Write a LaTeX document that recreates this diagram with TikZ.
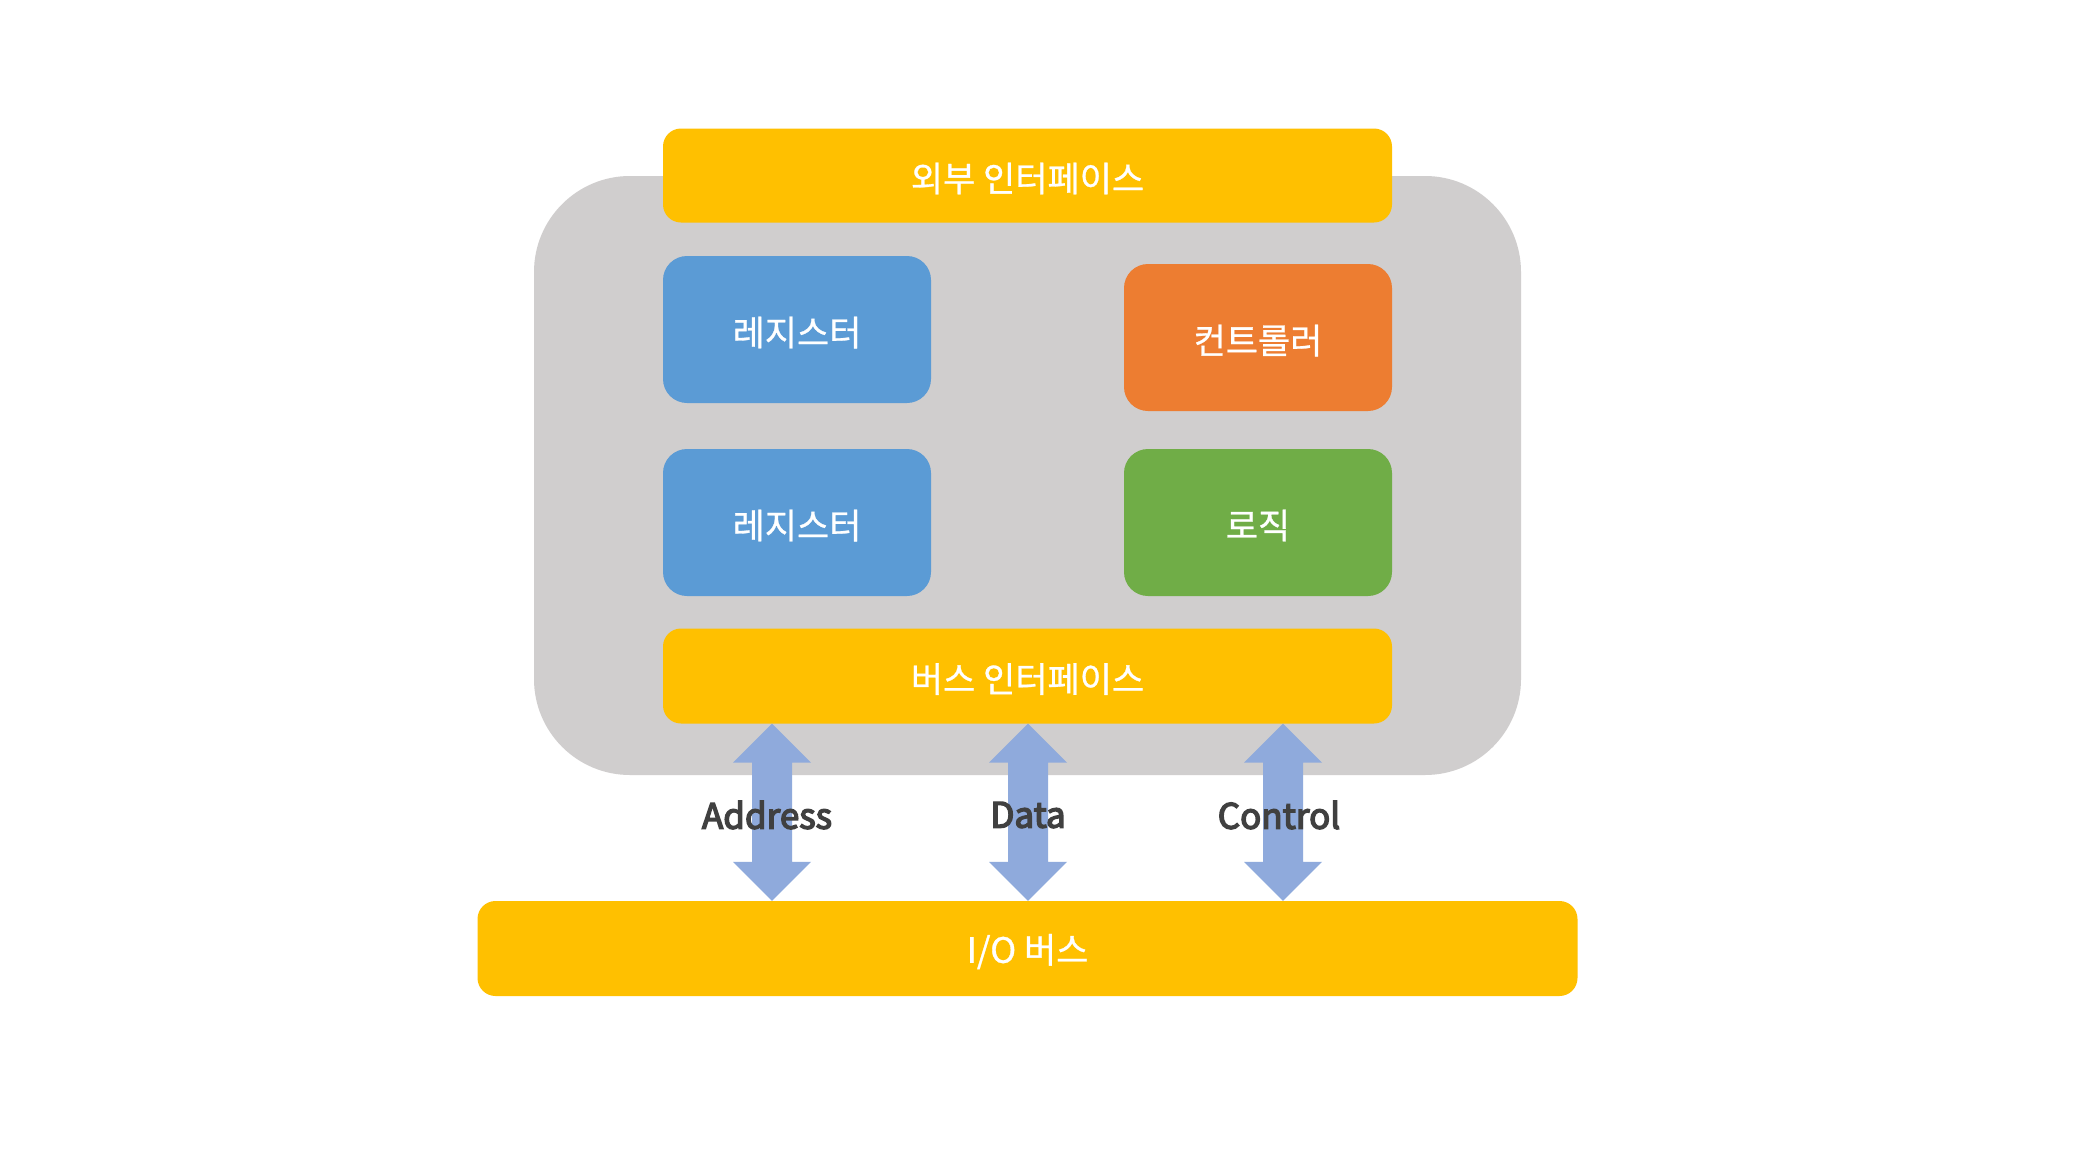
\documentclass[tikz,border=0pt]{standalone}
\usepackage{fontspec}
\usetikzlibrary{calc}
\setmainfont{Noto Sans CJK KR}
\newfontfamily\boxfont{Noto Sans CJK KR}[FakeBold=0.8]
\newfontfamily\lblfont{Noto Sans CJK KR}[FakeBold=4]
\newcommand{\lowtxt}[2]{\raisebox{-#1}[\height][\depth]{#2}}
\definecolor{cpuGray}{HTML}{D0CECE}
\definecolor{ifYellow}{HTML}{FFC000}
\definecolor{regBlue}{HTML}{5B9BD5}
\definecolor{ctlOrange}{HTML}{ED7D31}
\definecolor{logGreen}{HTML}{70AD47}
\definecolor{busArrow}{HTML}{8FAADC}
\definecolor{lblGray}{HTML}{404040}
\begin{document}
\begin{tikzpicture}[x=1pt,y=-1pt,
  blk/.style={rectangle, rounded corners=#1, inner sep=0pt, draw=none, text=white, font=\fontsize{35}{40}\boxfont},
  blk/.default=18pt,
  busarrow/.style={fill=busArrow, draw=none},
  lbl/.style={text=lblGray, font=\fontsize{35}{40}\lblfont, inner sep=0pt}]
\useasboundingbox[fill=white] (0,0) rectangle (2080,1170);
% CPU body
\node[blk=96pt, fill=cpuGray, minimum width=987pt, minimum height=599pt] (cpu) at (1027.5,475.5) {};
% blocks
\node[blk, fill=ifYellow, minimum width=729pt, minimum height=94pt] (extif) at (1027.5,175.5) {\lowtxt{3pt}{외부 인터페이스}};
\node[blk=24pt, fill=regBlue, minimum width=268pt, minimum height=147pt] (reg1) at (797,329.5) {\lowtxt{3pt}{레지스터}};
\node[blk=24pt, fill=ctlOrange, minimum width=268pt, minimum height=147pt] (ctl) at (1258,337.5) {\lowtxt{3pt}{컨트롤러}};
\node[blk=24pt, fill=regBlue, minimum width=268pt, minimum height=147pt] (reg2) at (797,522.5) {\lowtxt{3pt}{레지스터}};
\node[blk=24pt, fill=logGreen, minimum width=268pt, minimum height=147pt] (logic) at (1258,522.5) {\lowtxt{3pt}{로직}};
\node[blk, fill=ifYellow, minimum width=729pt, minimum height=95pt] (busif) at (1027.5,676) {\lowtxt{3pt}{버스 인터페이스}};
\node[blk, fill=ifYellow, minimum width=1100pt, minimum height=95pt] (io) at (1027.5,948.5) {\lowtxt{3pt}{I/O 버스}};
% bus arrows
\foreach \cx/\nm in {772/a, 1028/d, 1283/c}{
  \coordinate (top\nm) at (busif.south -| \cx,0);
  \coordinate (bot\nm) at (io.north -| \cx,0);
  \fill[busarrow] (top\nm) -- ++(39,39) -- ++(-19,0) |- ($(bot\nm)+(20,-39)$) -- ++(19,0) -- (bot\nm)
     -- ++(-39,-39) -- ++(19,0) |- ($(top\nm)+(-20,39)$) -- ++(-19,0) -- cycle;
}
\node[lbl] (laddr) at (767,815) {Address};
\node[lbl] (ldata) at (1028,815) {Data};
\node[lbl] (lctl) at (1279,815) {Control};
\end{tikzpicture}
\end{document}
